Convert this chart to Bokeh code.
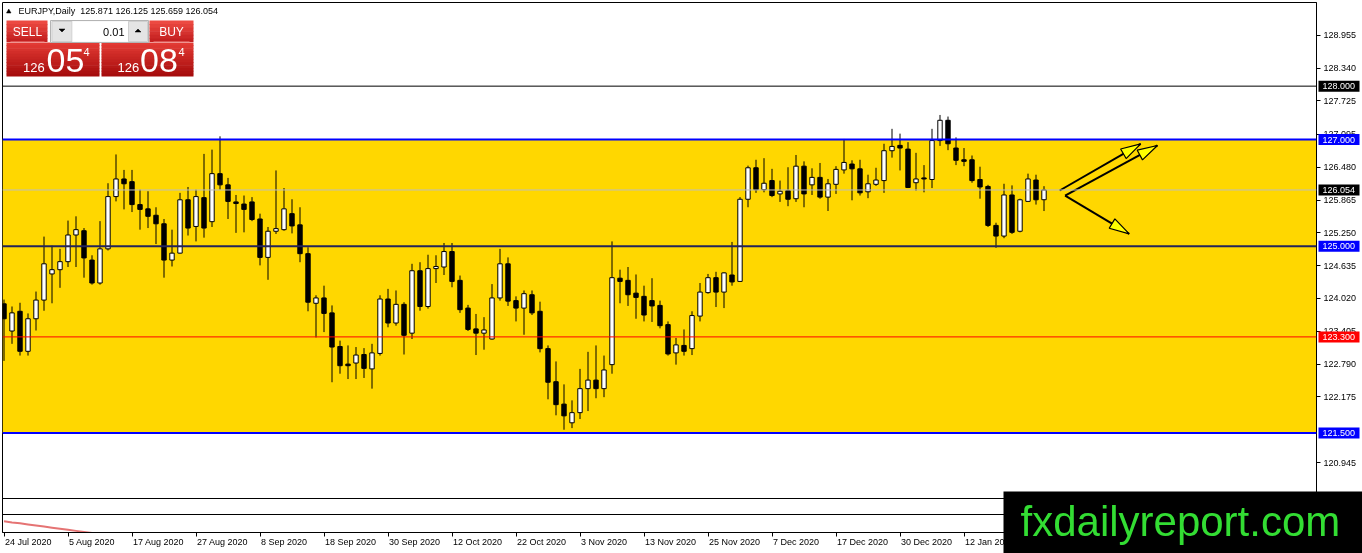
import math
from bokeh.plotting import figure
from bokeh.models import (Range1d, FixedTicker, LinearAxis, Span, BoxAnnotation,
                          ColumnDataSource, InlineStyleSheet, PrintfTickFormatter)
from bokeh.embed import file_html
from bokeh.resources import INLINE
from bokeh.core.properties import value

# ---------------- data ----------------
symbol = "EURJPY,Daily"
opens = [123.92, 123.41, 123.78, 123.03, 123.64, 123.99, 124.48, 124.56, 124.71, 125.21,
         125.29, 124.74, 124.31, 124.95, 125.93, 126.26, 126.21, 125.78, 125.70, 125.58,
         125.42, 124.74, 124.87, 125.87, 125.37, 125.91, 125.46, 126.36, 126.15, 125.83,
         125.79, 125.83, 125.51, 124.79, 125.28, 125.31, 125.61, 125.40, 124.86, 123.93,
         124.03, 123.75, 123.12, 122.79, 122.81, 122.97, 122.70, 122.99, 124.01, 123.56,
         123.91, 123.37, 124.54, 123.87, 124.58, 124.61, 124.90, 124.36, 123.84, 123.45,
         123.37, 123.26, 124.03, 124.67, 123.98, 123.84, 124.09, 123.78, 123.08, 122.46,
         122.04, 121.69, 121.88, 122.33, 122.49, 122.33, 122.78, 124.40, 124.36, 124.12,
         124.06, 123.98, 123.89, 123.53, 123.00, 123.14, 123.08, 123.69, 124.13, 124.41,
         124.14, 124.46, 124.34, 125.88, 126.47, 126.06, 126.23, 125.98, 126.04, 125.89,
         126.50, 126.15, 126.29, 125.92, 126.16, 126.43, 126.54, 126.45, 126.02, 126.16,
         126.23, 126.79, 126.89, 126.82, 126.19, 126.28, 126.25, 126.98, 127.36, 126.84,
         126.62, 126.62, 126.25, 126.12, 125.39, 125.19, 125.96, 125.28, 125.84, 126.24,
         125.871]
highs = [124.00, 123.87, 123.94, 123.74, 124.15, 125.18, 125.01, 124.95, 125.48, 125.56,
         125.34, 124.83, 125.47, 126.18, 126.72, 126.43, 126.43, 126.06, 126.03, 125.73,
         125.51, 125.31, 126.00, 126.11, 126.06, 126.73, 126.81, 127.06, 126.28, 125.96,
         125.95, 125.92, 125.61, 125.36, 126.42, 126.09, 125.88, 125.73, 124.98, 124.08,
         124.26, 123.89, 123.23, 123.14, 123.11, 123.09, 123.17, 124.08, 124.20, 124.17,
         123.95, 124.67, 124.70, 124.84, 124.83, 125.06, 125.06, 124.45, 123.90, 123.73,
         123.67, 124.29, 124.95, 124.79, 124.06, 124.17, 124.17, 123.96, 123.14, 122.84,
         122.41, 122.11, 122.70, 123.02, 123.14, 122.95, 125.09, 124.56, 124.61, 124.47,
         124.26, 124.40, 123.98, 123.59, 123.28, 123.44, 123.78, 124.31, 124.48, 124.52,
         124.51, 125.08, 125.92, 126.51, 126.62, 126.65, 126.45, 126.23, 126.48, 126.71,
         126.59, 126.46, 126.56, 126.26, 126.50, 127.01, 126.61, 126.62, 126.34, 126.47,
         126.92, 127.20, 127.11, 126.95, 126.75, 126.52, 127.20, 127.46, 127.43, 127.04,
         126.84, 126.70, 126.49, 126.15, 125.44, 126.17, 126.14, 125.89, 126.36, 126.34,
         126.125]
lows = [122.85, 123.17, 122.95, 122.95, 123.42, 123.79, 123.93, 124.22, 124.61, 124.61,
        124.41, 124.28, 124.28, 124.92, 125.84, 125.69, 125.64, 125.31, 125.34, 125.04,
        124.41, 124.62, 124.86, 125.20, 125.09, 125.16, 125.36, 126.06, 125.51, 125.25,
        125.26, 125.47, 124.64, 124.37, 125.23, 125.29, 125.24, 124.70, 123.78, 123.29,
        123.39, 122.45, 122.61, 122.51, 122.51, 122.53, 122.33, 122.95, 123.48, 123.51,
        122.97, 123.26, 123.79, 123.83, 124.31, 124.46, 124.23, 123.75, 123.41, 122.96,
        123.06, 123.25, 123.98, 123.88, 123.59, 123.34, 123.71, 123.01, 122.13, 121.83,
        121.56, 121.59, 121.76, 121.91, 122.15, 122.17, 122.61, 123.93, 123.88, 123.64,
        123.59, 123.58, 123.46, 122.95, 122.78, 122.95, 122.96, 123.59, 124.11, 123.86,
        123.84, 124.26, 124.33, 125.73, 126.00, 126.01, 125.92, 125.83, 125.75, 125.83,
        125.73, 125.96, 125.89, 125.66, 125.98, 126.36, 125.86, 125.95, 125.90, 126.13,
        126.00, 126.66, 126.42, 126.09, 126.04, 126.01, 126.09, 126.88, 126.80, 126.52,
        126.50, 126.19, 125.89, 125.36, 124.97, 125.15, 125.23, 125.26, 125.83, 125.78,
        125.659]
closes = [123.64, 123.75, 123.03, 123.64, 123.99, 124.67, 124.56, 124.71, 125.21, 125.31,
          124.78, 124.31, 124.95, 125.93, 126.26, 126.17, 125.78, 125.69, 125.56, 125.42,
          124.74, 124.87, 125.87, 125.34, 125.93, 125.34, 126.36, 126.15, 125.84, 125.80,
          125.69, 125.50, 124.79, 125.28, 125.33, 125.70, 125.38, 124.86, 123.95, 124.03,
          123.74, 123.11, 122.76, 122.76, 122.96, 122.71, 123.00, 124.01, 123.56, 123.91,
          123.33, 124.54, 123.87, 124.58, 124.62, 124.90, 124.34, 123.81, 123.44, 123.37,
          123.43, 124.03, 124.67, 123.97, 123.84, 124.11, 123.75, 123.08, 122.45, 122.03,
          121.82, 121.88, 122.33, 122.49, 122.33, 122.68, 124.41, 124.34, 124.09, 124.04,
          123.71, 123.88, 123.51, 122.98, 123.15, 123.03, 123.70, 124.14, 124.41, 124.14,
          124.50, 124.33, 125.88, 126.47, 126.06, 126.18, 125.95, 126.03, 125.88, 126.50,
          125.98, 126.29, 125.92, 126.17, 126.44, 126.57, 126.45, 126.00, 126.17, 126.24,
          126.79, 126.87, 126.84, 126.10, 126.26, 126.26, 126.98, 127.36, 126.92, 126.61,
          126.59, 126.23, 126.11, 125.39, 125.19, 125.96, 125.26, 125.87, 126.26, 125.87,
          126.054]
tick_index = [0, 8, 16, 24, 32, 40, 48, 56, 64, 72, 80, 88, 96, 104, 112, 120]
tick_labels = ["24 Jul 2020", "5 Aug 2020", "17 Aug 2020", "27 Aug 2020", "8 Sep 2020",
               "18 Sep 2020", "30 Sep 2020", "12 Oct 2020", "22 Oct 2020", "3 Nov 2020",
               "13 Nov 2020", "25 Nov 2020", "7 Dec 2020", "17 Dec 2020", "30 Dec 2020",
               "12 Jan 2021"]
price_ticks = [128.955, 128.340, 127.725, 127.095, 126.480, 125.865, 125.250, 124.635,
               124.020, 123.405, 122.790, 122.175, 120.945]
level_prices = [128.000, 127.000, 126.054, 125.000, 123.300, 121.500]
level_line_colors = ["#000000", "#0000FF", "#BEBEBE", "#23235A", "#FF0000", "#0000FF"]
level_line_widths = [1, 2, 1, 2, 1, 2]
level_tag_colors = ["#000000", "#0000FF", "#000000", "#0000FF", "#FF0000", "#0000FF"]
zone_low, zone_high = 121.500, 127.000
bid, ask = 126.054, 126.084
lot = "0.01"
osc_values = [0.62, 0.56, 0.51, 0.45, 0.39, 0.33, 0.27, 0.21, 0.15, 0.09, 0.03, -0.03]
arrow_x0 = [131.96, 132.64, 132.64]
arrow_y0 = [126.044, 125.950, 125.950]
arrow_x1 = [142.09, 144.18, 140.65]
arrow_y1 = [126.919, 126.888, 125.232]
watermark = "fxdailyreport.com"

# ---------------- layout constants ----------------
W, H = 1362, 553
FL, FT, FR, FB = 2, 2, 1316, 532          # main frame edges in canvas px
PXU_X = 8.0                               # px per bar
PXU_Y = 53.35                             # px per price unit
x_start = -(3.5 - FL) / PXU_X
x_end = x_start + (FR - FL) / PXU_X
y_end = 125.0 + (245.7 - FT) / PXU_Y
y_start = y_end - (FB - FT) / PXU_Y

FONT = value("Liberation Sans")

def pin(z):
    return [InlineStyleSheet(css=":host { position: fixed !important; left: 0px !important; "
                                 "top: 0px !important; z-index: %d; }" % z)]

p = figure(width=W, height=H, output_backend="svg", toolbar_location=None,
           x_range=Range1d(x_start, x_end), y_range=Range1d(y_start, y_end),
           x_axis_location=None, y_axis_location=None,
           min_border_left=FL, min_border_top=FT, min_border_right=W - FR,
           min_border_bottom=H - FB)
p.stylesheets = pin(1)
p.grid.visible = False
p.outline_line_color = "black"
p.outline_line_width = 1
p.background_fill_color = "white"
p.border_fill_color = "white"

p.extra_x_ranges = {"px": Range1d(FL, FR)}
p.extra_y_ranges = {"px": Range1d(FB, FT),
                    "sub": Range1d(0, (FB - FT) / 18.0)}

# right price axis
yaxis = LinearAxis(ticker=FixedTicker(ticks=price_ticks),
                   formatter=PrintfTickFormatter(format="%.3f"),
                   major_tick_out=4, major_tick_in=0, minor_tick_out=0, minor_tick_in=0,
                   major_label_standoff=3, axis_line_color="black",
                   major_tick_line_color="black",
                   major_label_text_font="Liberation Sans",
                   major_label_text_font_size="9px", major_label_text_color="black")
p.add_layout(yaxis, "right")

# bottom time axis: tick marks (labels are drawn left-aligned on the overlay, MT4 style)
xaxis = LinearAxis(ticker=FixedTicker(ticks=tick_index),
                   major_tick_out=4, major_tick_in=0, minor_tick_out=0, minor_tick_in=0,
                   axis_line_color="black", major_tick_line_color="black",
                   major_label_standoff=0, major_label_text_font_size="8px",
                   major_label_text_color=None,
                   major_label_overrides={t: "" for t in tick_index})
p.add_layout(xaxis, "below")

# gold zone
p.add_layout(BoxAnnotation(bottom=zone_low, top=zone_high, fill_color="#FFD700",
                           fill_alpha=1.0, line_color=None, level="underlay"))

# candles
idx = list(range(len(opens)))
src = ColumnDataSource(dict(
    x=idx, h=highs, l=lows,
    top=[max(o, c) for o, c in zip(opens, closes)],
    bot=[min(o, c) for o, c in zip(opens, closes)],
    fill=["white" if c >= o else "black" for o, c in zip(opens, closes)]))
p.segment(x0="x", y0="l", x1="x", y1="h", source=src, line_color="black", line_width=1)
p.vbar(x="x", width=0.55, top="top", bottom="bot", fill_color="fill",
       line_color="black", line_width=1, source=src)

# horizontal levels
for lvl, col, lw in zip(level_prices, level_line_colors, level_line_widths):
    p.add_layout(Span(location=lvl, dimension="width", line_color=col, line_width=lw))

# sub window separators and indicator
p.segment(x0=[FL, FL], y0=[498, 514], x1=[FR, FR], y1=[498, 514],
          x_range_name="px", y_range_name="px", line_color="black", line_width=1)
p.line(x=idx[:len(osc_values)], y=osc_values, y_range_name="sub",
       line_color="#E57373", line_width=2)

# arrows (shaft + yellow head)
p.segment(x0=arrow_x0, y0=arrow_y0, x1=arrow_x1, y1=arrow_y1,
          line_color="black", line_width=2)
hx, hy = [], []
for x0, y0, x1, y1 in zip(arrow_x0, arrow_y0, arrow_x1, arrow_y1):
    dx, dy = (x1 - x0) * PXU_X, (y1 - y0) * PXU_Y
    d = math.hypot(dx, dy)
    ux, uy = dx / d, dy / d
    Lh, wh = 20.0, 5.5
    bx, by = x1 * PXU_X - Lh * ux, y1 * PXU_Y - Lh * uy
    nx, ny = -uy, ux
    pts = [(x1 * PXU_X, y1 * PXU_Y), (bx + wh * nx, by + wh * ny), (bx - wh * nx, by - wh * ny)]
    hx.append([q[0] / PXU_X for q in pts])
    hy.append([q[1] / PXU_Y for q in pts])
p.patches(xs=hx, ys=hy, fill_color="#FFFF00", line_color="black", line_width=1.2)

# ---------------- one-click trading panel ----------------
def lerp_color(c0, c1, t):
    a = [int(c0[i:i + 2], 16) for i in (1, 3, 5)]
    b = [int(c1[i:i + 2], 16) for i in (1, 3, 5)]
    return "#%02x%02x%02x" % tuple(round(a[k] + (b[k] - a[k]) * t) for k in range(3))

QL, QR, QT, QB, QC = [], [], [], [], []
def grad_box(x0, x1, y0, y1, ctop, cbot, n=10):
    hh = (y1 - y0) / n
    for k in range(n):
        QL.append(x0); QR.append(x1)
        QT.append(y0 + k * hh); QB.append(min(y1, y0 + (k + 1) * hh + 0.6))
        QC.append(lerp_color(ctop, cbot, k / (n - 1)))

grad_box(6, 47, 20, 41.5, "#EC4A42", "#C42020", 6)
grad_box(149, 193, 20, 41.5, "#EC4A42", "#C42020", 6)
grad_box(6, 99, 42, 76, "#E23A34", "#A60C0C", 12)
grad_box(101, 193, 42, 76, "#E23A34", "#A60C0C", 12)
p.quad(left=QL, right=QR, top=QT, bottom=QB, fill_color=QC, line_color=None,
       x_range_name="px", y_range_name="px")
p.segment(x0=[10, 153], y0=[41.5, 41.5], x1=[44, 189], y1=[41.5, 41.5],
          x_range_name="px", y_range_name="px", line_color="#F08C88", line_width=1)
p.quad(left=[50], right=[148], top=[20], bottom=[42], fill_color="#F2F2F2",
       line_color="#B4B4B4", x_range_name="px", y_range_name="px")
p.quad(left=[51.5, 128], right=[71.5, 147], top=[21, 21], bottom=[41, 41],
       fill_color="#E4E4E4", line_color="#CFCFCF", x_range_name="px", y_range_name="px")
p.quad(left=[72], right=[127.5], top=[21], bottom=[41], fill_color="white",
       line_color=None, x_range_name="px", y_range_name="px")
p.patches(xs=[[6, 10.5, 8.25], [58.5, 64.5, 61.5], [134.5, 140.5, 137.5]],
          ys=[[12.5, 12.5, 8.5], [28.5, 28.5, 31.5], [31.5, 31.5, 28.5]],
          fill_color="black", line_color="black", line_width=0.5,
          x_range_name="px", y_range_name="px")

def ptext(fig, x, y, t, size, color="white", align="left", baseline="middle", xr="px", yr="px"):
    kw = {}
    if xr:
        kw["x_range_name"] = xr
    if yr:
        kw["y_range_name"] = yr
    fig.text(x=x if isinstance(x, list) else [x], y=y if isinstance(y, list) else [y],
             text=t if isinstance(t, list) else [t],
             text_font=FONT, text_font_size=value(size), text_color=color,
             text_align=align, text_baseline=baseline, **kw)

header = "%s\u00a0 %.3f %.3f %.3f %.3f" % (symbol, opens[-1], highs[-1], lows[-1], closes[-1])
ptext(p, 18, 10.8, header, "9px", "black")
ptext(p, 27, 31, "SELL", "12px", "white", "center")
ptext(p, 171, 31, "BUY", "12px", "white", "center")
ptext(p, 124, 31, lot, "11px", "black", "right")

bs, as_ = "%.3f" % bid, "%.3f" % ask
for s, x_small, x_big, x_pip in ((bs, 22.5, 46, 83), (as_, 117, 139.5, 178)):
    ptext(p, x_small, 66.5, s[:3], "13px")
    ptext(p, x_big, 60, s[4:6], "34px")
    ptext(p, x_pip, 51.5, s[6:], "11px")

# ---------------- transparent overlay (price tags, dates, watermark) ----------------
ox0 = x_start - FL / PXU_X
oy1 = y_end + FT / PXU_Y
q = figure(width=W, height=H, output_backend="svg", toolbar_location=None,
           x_range=Range1d(ox0, ox0 + W / PXU_X), y_range=Range1d(oy1 - H / PXU_Y, oy1),
           x_axis_location=None, y_axis_location=None,
           min_border=0, min_border_left=0, min_border_right=0,
           min_border_top=0, min_border_bottom=0)
q.stylesheets = pin(2)
q.grid.visible = False
q.outline_line_color = None
q.background_fill_color = None
q.border_fill_color = None
q.extra_x_ranges = {"px": Range1d(0, W)}
q.extra_y_ranges = {"px": Range1d(H, 0)}

# price tags on the right scale
half = 5.5 / PXU_Y
q.quad(left=[1318] * len(level_prices), right=[1359] * len(level_prices),
       top=[v + half for v in level_prices], bottom=[v - half for v in level_prices],
       fill_color=level_tag_colors, line_color=None, x_range_name="px")
ptext(q, [1322] * len(level_prices), level_prices, ["%.3f" % v for v in level_prices],
      "9px", "white", "left", "middle", xr="px", yr=None)

# date labels, left-aligned at their tick marks
q.text(x=tick_index, y=[536] * len(tick_index), text=tick_labels, y_range_name="px",
       x_offset=1, text_font=FONT, text_font_size=value("9px"), text_color="black",
       text_align="left", text_baseline="top")

# watermark
q.quad(left=[1003], right=[W], top=[491], bottom=[H], fill_color="black", line_color=None,
       x_range_name="px", y_range_name="px")
ptext(q, 1020, 521, watermark, "42px", "#33DD33", "left", "middle")

open("out.html", "w").write(file_html([p, q], INLINE))
